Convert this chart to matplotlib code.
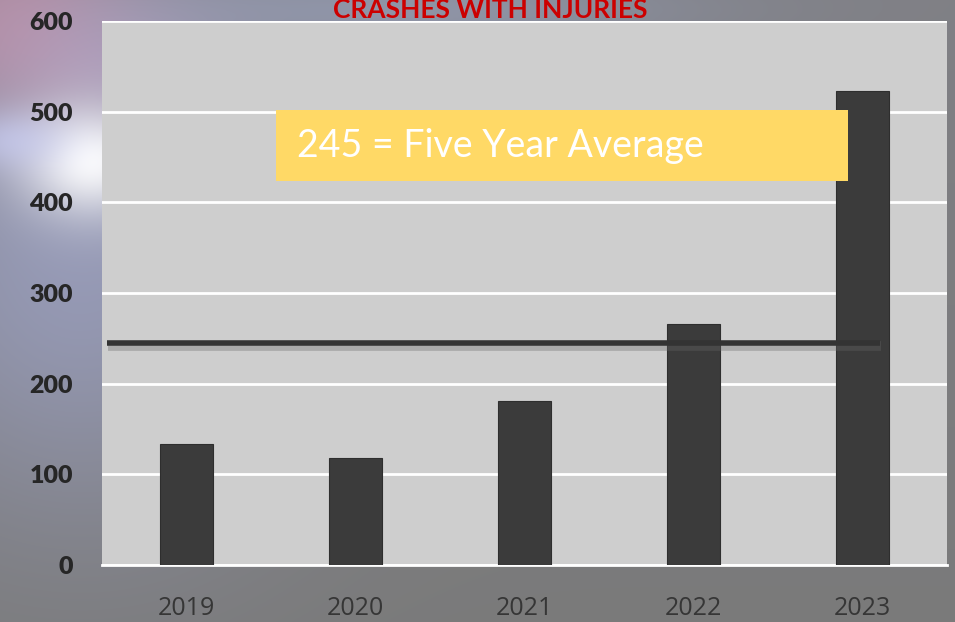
import numpy as np
import matplotlib.pyplot as plt
from matplotlib.patches import Rectangle
import matplotlib.patheffects as pe

# injury crashes per year
years = ['2019', '2020', '2021', '2022', '2023']
crashes = [133, 118, 181, 266, 523]
five_year_avg = 245
avg_text = '245 = Five Year Average'

W, H = 955, 622
fig = plt.figure(figsize=(W / 100, H / 100), dpi=100)

# backdrop: grey gradient with a light cloudy patch on the left
yy, xx = np.mgrid[0:H, 0:W].astype(float)
base = np.zeros((H, W, 3))
t = np.clip(yy / H, 0, 1)[..., None]
top = np.array([0.50, 0.50, 0.52])
bot = np.array([0.48, 0.48, 0.48])
base[:] = top * (1 - t) + bot * t

def blob(cx, cy, rx, ry, color, strength):
    g = np.exp(-(((xx - cx) / rx) ** 2 + ((yy - cy) / ry) ** 2))[..., None] * strength
    return g, np.array(color)

for cx, cy, rx, ry, col, s in [
    (80, 250, 220, 260, (0.62, 0.64, 0.78), 0.75),
    (20, 20, 120, 90, (0.78, 0.55, 0.65), 0.7),
    (110, 60, 120, 60, (0.72, 0.66, 0.80), 0.5),
    (90, 160, 70, 55, (1.0, 1.0, 1.0), 0.95),
    (10, 140, 60, 30, (0.80, 0.82, 0.98), 0.6),
    (400, 10, 300, 40, (0.62, 0.66, 0.78), 0.5),
]:
    g, c = blob(cx, cy, rx, ry, col, s)
    base = base * (1 - g) + c * g

bg = fig.add_axes([0, 0, 1, 1], zorder=-10)
bg.imshow(np.clip(base, 0, 1), aspect='auto', extent=[0, 1, 0, 1])
bg.axis('off')

ax = fig.add_axes([102 / W, 57 / H, 845 / W, 544 / H])
ax.set_facecolor('#cecece')

x = np.arange(len(years))
ax.bar(x, crashes, width=0.31, color='#3b3b3b', edgecolor='#2e2e2e',
       linewidth=0.8, zorder=3)

ax.set_xlim(-0.5, len(years) - 0.5)
ax.set_ylim(0, 600)
ax.set_yticks(range(0, 601, 100))
ax.grid(axis='y', color='white', linewidth=2, zorder=1)
ax.set_axisbelow(True)
for s in ['left', 'right', 'top']:
    ax.spines[s].set_visible(False)
ax.spines['bottom'].set_color('white')
ax.spines['bottom'].set_linewidth(2)

ax.set_xticks(x)
ax.set_xticklabels(years, fontsize=18, color='#363636', family='Open Sans')
ax.tick_params(axis='x', length=0, pad=22)
ax.tick_params(axis='y', length=0, pad=21, labelsize=18, labelcolor='#262626')
for lab in ax.get_yticklabels():
    lab.set_fontfamily('Lato')
    lab.set_fontweight('heavy')

# average line with soft shadow
ax.axhline(five_year_avg, xmin=0.006, xmax=0.921, color='#333333', linewidth=4,
           solid_capstyle='butt', zorder=4,
           path_effects=[pe.SimpleLineShadow(offset=(0.5, -2.5), shadow_color='#666666', alpha=0.35, linewidth=7),
                         pe.Normal()])

# callout box
ax.add_patch(Rectangle((0.206, 0.706), 0.677, 0.130, transform=ax.transAxes,
                       facecolor='#ffd966', edgecolor='none', zorder=5))
ax.text(0.231, 0.770, avg_text, transform=ax.transAxes, fontsize=27,
        color='white', family='Lato', va='center', ha='left', zorder=6)

fig.text(0.513, 1 - 18.5 / H, 'CRASHES WITH INJURIES', ha='center', va='baseline',
         fontsize=19, fontweight='bold', color='#cc0000', family='Lato')

fig.savefig('out.png', dpi=100)
